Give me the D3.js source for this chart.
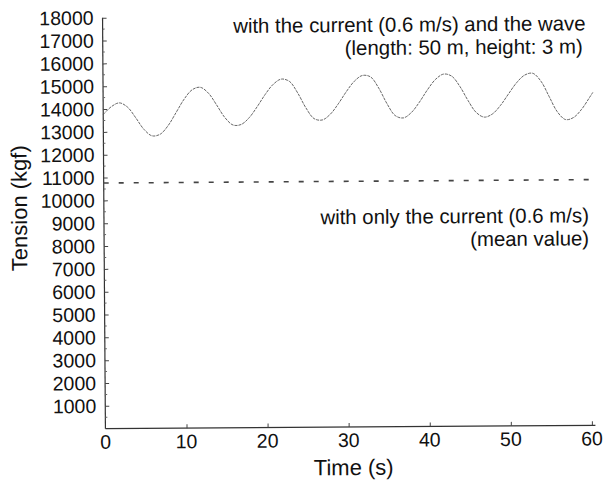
<!DOCTYPE html>
<html><head><meta charset="utf-8">
<script src="https://cdn.jsdelivr.net/npm/d3@7"></script>
<style>body{margin:0;background:#fff}svg{display:block}text{font-family:"Liberation Sans",Arial,sans-serif;fill:#111}</style>
</head><body>
<svg id="c" width="611" height="486"></svg>
<script>
const timeS = [0,1,2,3,4,5,6,7,8,9,10,11,12,13,14,15,16,17,18,19,20,21,22,23,24,25,26,27,28,29,30,31,32,33,34,35,36,37,38,39,40,41,42,43,44,45,46,47,48,49,50,51,52,53,54,55,56,57,58,59,60,60.4];
const waveTension = [13760,14100,14265,14077,13611,13102,12813,12878,13259,13833,14413,14821,14922,14660,14140,13590,13262,13281,13578,14060,14595,15035,15257,15152,14646,13991,13517,13454,13702,14158,14688,15143,15391,15325,14833,14152,13627,13519,13751,14204,14741,15194,15426,15337,14886,14263,13736,13530,13666,14039,14539,15024,15357,15435,15091,14418,13744,13400,13485,13843,14364,14580];
const currentTime = [0,60.4];
const currentTension = [10760,10760];
const yTicks = [1000,2000,3000,4000,5000,6000,7000,8000,9000,10000,11000,12000,13000,14000,15000,16000,17000,18000];
const xTicks = [0,10,20,30,40,50,60];
const labels = {x:"Time (s)", y:"Tension (kgf)",
  wave:["with the current (0.6 m/s) and the wave","(length: 50 m, height: 3 m)"],
  cur:["with only the current (0.6 m/s)","(mean value)"]};

const root = d3.select("#c").append("g").attr("transform","rotate(-0.4,349,224)");
const x = d3.scaleLinear().domain([0,60]).range([104,590.5]);
const y = d3.scaleLinear().domain([0,18000]).range([427,16]);

// axes
const yAx = root.append("g").attr("transform","translate(104,0)")
  .call(d3.axisRight(y).tickValues(yTicks).tickSize(4).tickFormat(""));
yAx.select(".domain").attr("d","M0,16V427");
const xAx = root.append("g").attr("transform","translate(0,427)")
  .call(d3.axisTop(x).tickValues(xTicks.slice(1)).tickSize(4).tickFormat(""));
xAx.select(".domain").attr("d","M104,0H594");
root.selectAll(".domain").attr("stroke","#333").attr("stroke-width",1.2);
root.selectAll(".tick line").attr("stroke","#444");
// minor ticks
root.append("g").selectAll("line").data(d3.range(500,18000,1000)).join("line")
  .attr("x1",104).attr("x2",106).attr("y1",d=>y(d)).attr("y2",d=>y(d)).attr("stroke","#666");

// tick labels
root.append("g").selectAll("text").data(yTicks).join("text")
  .attr("x",95).attr("y",d=>y(d)+7).attr("text-anchor","end")
  .attr("font-size",19.5).text(d=>d);
root.append("g").selectAll("text").data(xTicks).join("text")
  .attr("x",d=>x(d)).attr("y",447).attr("text-anchor","middle")
  .attr("font-size",19.5).text(d=>d);

root.append("text").attr("x",352).attr("y",475).attr("text-anchor","middle").attr("font-size",22).text(labels.x);
root.append("text").attr("transform","translate(27,206) rotate(-90)").attr("text-anchor","middle").attr("font-size",22).text(labels.y);

// lines
const line = d3.line().x(d=>x(d[0])).y(d=>y(d[1])).curve(d3.curveCatmullRom);
root.append("path").datum(timeS.map((t,i)=>[t,waveTension[i]]))
  .attr("d",line).attr("fill","none").attr("stroke","#555").attr("stroke-width",0.9)
  .attr("stroke-dasharray","3,1");
root.append("path").datum(currentTime.map((t,i)=>[t,currentTension[i]]))
  .attr("d",d3.line().x(d=>x(d[0])).y(d=>y(d[1])))
  .attr("fill","none").attr("stroke","#444").attr("stroke-width",1.6).attr("stroke-dasharray","5,10");

// annotations
const wAnchor = [587,584];
root.append("g").selectAll("text").data(labels.wave).join("text")
  .attr("x",(d,i)=>wAnchor[i]).attr("y",(d,i)=>32+i*23).attr("text-anchor","end").attr("font-size",20.4).text(d=>d);
root.append("g").selectAll("text").data(labels.cur).join("text")
  .attr("x",589).attr("y",(d,i)=>224+i*23).attr("text-anchor","end").attr("font-size",20.4).text(d=>d);
</script>
</body></html>
